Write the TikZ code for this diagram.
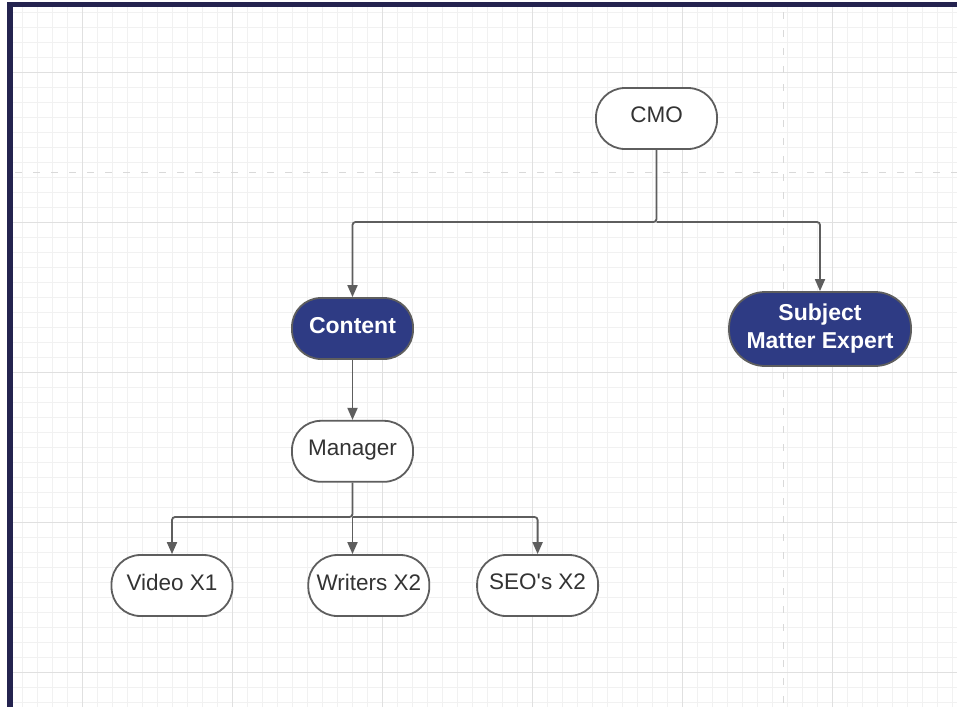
\documentclass[tikz,border=0pt]{standalone}
\usepackage{fontspec}
\setmainfont{Liberation Sans}
\usetikzlibrary{arrows.meta,positioning}
\definecolor{navyfill}{HTML}{2E3B84}
\definecolor{frameblue}{HTML}{24234F}
\definecolor{edgegray}{HTML}{5E5E5E}
\definecolor{textgray}{HTML}{333333}

\begin{document}
\begin{tikzpicture}[
  x=1pt, y=-1pt,
  font=\fontsize{22.5}{28}\selectfont,
  role/.style={rectangle, rounded corners=29pt, draw=edgegray, line width=1.8pt,
               fill=white, text=textgray, minimum width=121pt, minimum height=61pt,
               align=center, inner sep=0pt, text depth=7pt},
  lead/.style={role, fill=navyfill, text=white,
               font=\fontsize{23}{28}\selectfont\bfseries},
  arr/.style={-{Triangle[length=12pt,width=10pt]}, line width=1.8pt, edgegray,
              rounded corners=3pt},
  minorline/.style={gray!11, line width=0.8pt},
  majorline/.style={gray!24, line width=0.8pt},
  guide/.style={gray!30, line width=1.2pt, dash pattern=on 7pt off 11pt}
]
\useasboundingbox (0,0) rectangle (957,707);
\fill[white] (0,0) rectangle (957,707);

% ---- grid ----
\foreach \gx in {7.7,22.7,...,957} \draw[minorline] (\gx,7) -- (\gx,707);
\foreach \gy in {12.7,27.7,...,707} \draw[minorline] (13,\gy) -- (957,\gy);
\foreach \gx in {82.7,232.7,...,957} \draw[majorline] (\gx,7) -- (\gx,707);
\foreach \gy in {72.7,222.7,...,707} \draw[majorline] (13,\gy) -- (957,\gy);
\draw[guide] (15,172.3) -- (957,172.3);
\draw[guide] (783.3,12) -- (783.3,707);

% ---- frame ----
\fill[frameblue] (7,2) rectangle (957,7);
\fill[frameblue] (7,2) rectangle (13,707);

% ---- top ----
\node[role] (cmo) at (656.5,118.5) {CMO};

% ---- second level ----
\node[lead] (content) at (352.5,328.5) {Content};
\node[lead, rounded corners=36pt, minimum width=182pt, minimum height=74pt,
      text depth=] (sme) at (820,329) {Subject\\Matter Expert};
\node[role, below=60pt of content] (mgr) {Manager};

% ---- team ----
\node[role] (video) at (172,585.5) {Video X1};
\node[role, right=74pt of video] (writers) {Writers X2};
\node[role, right=46pt of writers] (seos) {SEO\textquotesingle s X2};

% arrows
\coordinate (cmojoin) at (656.5,222);
\coordinate (mgrjoin) at (352.5,517);
\draw[arr] (cmo.south) -- (cmojoin) -| (content.north);
\draw[arr] (cmojoin) -| (sme.north);
\draw[arr] (content) -- (mgr);
\draw[arr] (mgr.south) -- (mgrjoin) -| (video.north);
\draw[arr] (mgrjoin) -| (seos.north);
\draw[arr] (mgrjoin) -- (mgrjoin |- writers.north);
\end{tikzpicture}
\end{document}
